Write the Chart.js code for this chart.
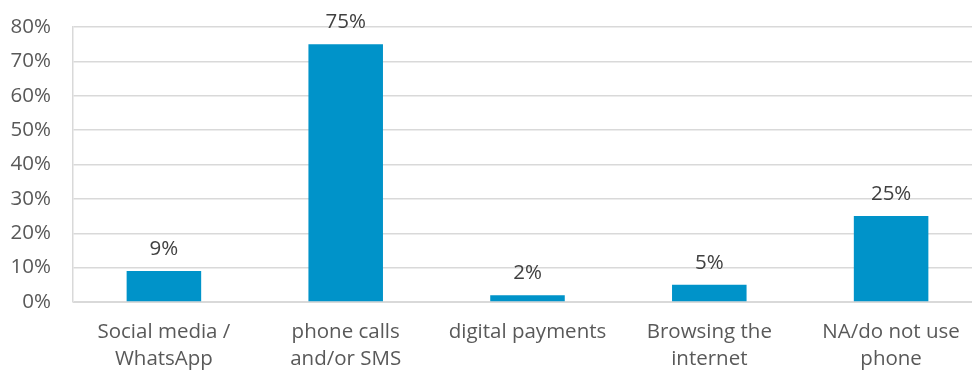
<!DOCTYPE html>
<html>
<head>
<meta charset="utf-8">
<script src="https://cdn.jsdelivr.net/npm/chart.js@4/dist/chart.umd.min.js"></script>
<style>
  html, body { margin: 0; padding: 0; background: #fff; overflow: hidden; }
  #wrap { width: 982px; height: 378px; }
</style>
</head>
<body>
<div id="wrap"><canvas id="usage-chart" width="982" height="378"></canvas></div>
<script>
// categories and values
var categories = [
    ['Social media /', 'WhatsApp'],
    ['phone calls', 'and/or SMS'],
    ['digital payments'],
    ['Browsing the', 'internet'],
    ['NA/do not use', 'phone']
];
var shares = [9, 75, 2, 5, 25];
var yTicks = [0, 10, 20, 30, 40, 50, 60, 70, 80];

var fontFamily = '"Open Sans", "Noto Sans", sans-serif';

// draws the percentage above each bar
var barLabels = {
    id: 'barLabels',
    afterDatasetsDraw: function(chart) {
        var ctx = chart.ctx;
        var meta = chart.getDatasetMeta(0);
        ctx.save();
        ctx.font = '20.5px ' + fontFamily;
        ctx.fillStyle = '#404040';
        ctx.textAlign = 'center';
        ctx.textBaseline = 'alphabetic';
        meta.data.forEach(function(bar, i) {
            ctx.fillText(shares[i] + '%', bar.x, bar.y - 16);
        });
        ctx.restore();
    }
};

var ctx = document.getElementById('usage-chart').getContext('2d');
var usageChart = new Chart(ctx, {
    type: 'bar',
    data: {
        labels: categories,
        datasets: [{
            data: shares,
            backgroundColor: '#0093C9',
            barPercentage: 1,
            categoryPercentage: 0.41
        }]
    },
    options: {
        responsive: false,
        animation: false,
        layout: { padding: { top: 27, left: 0, right: 0, bottom: 0 } },
        plugins: {
            legend: { display: false },
            tooltip: { enabled: false }
        },
        scales: {
            x: {
                grid: { display: false },
                border: { color: '#d9d9d9', width: 1 },
                ticks: {
                    color: '#595959',
                    font: { family: fontFamily, size: 20.5, lineHeight: 1.3 },
                    padding: 9,
                    maxRotation: 0,
                    autoSkip: false
                },
                afterFit: function(scale) {
                    scale.height = 76;
                    scale.paddingLeft = 0;
                    scale.paddingRight = 0;
                }
            },
            y: {
                min: 0,
                max: 80,
                afterBuildTicks: function(scale) {
                    scale.ticks = yTicks.map(function(v) { return { value: v }; });
                },
                grid: { color: '#d9d9d9', lineWidth: 1.5, drawTicks: false },
                border: { color: '#d9d9d9', width: 1.5 },
                ticks: {
                    color: '#595959',
                    font: { family: fontFamily, size: 20.5 },
                    padding: 22,
                    callback: function(v) { return v + '%'; }
                },
                afterFit: function(scale) {
                    scale.width = 73;
                    scale.paddingTop = 0;
                    scale.paddingBottom = 0;
                }
            }
        }
    },
    plugins: [barLabels]
});
</script>
</body>
</html>
